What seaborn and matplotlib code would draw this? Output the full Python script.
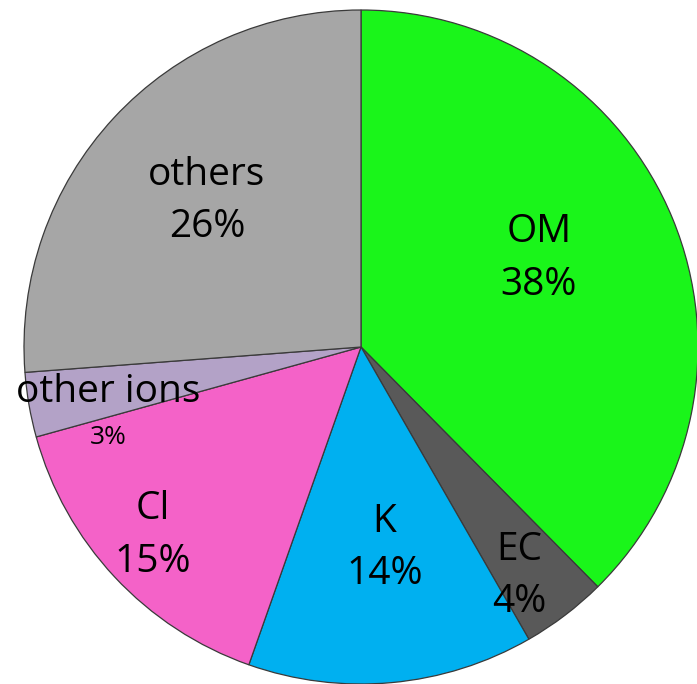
import matplotlib
matplotlib.use("Agg")
import matplotlib.pyplot as plt
import seaborn as sns

sns.set_theme(style="white")
plt.rcParams['font.family'] = ['Open Sans', 'DejaVu Sans']

categories = ["OM", "EC", "K", "Cl", "other ions", "others"]
values = [37.6, 4.1, 13.7, 15.3, 3.1, 26.2]
pct_labels = ["38%", "4%", "14%", "15%", "3%", "26%"]
colors = ["#1AF51A", "#595959", "#00B0F0", "#F462C8", "#B3A2C7", "#A6A6A6"]

fig = plt.figure(figsize=(6.97, 6.84), dpi=100)
ax = fig.add_axes([24/697, 0/684, 674/697, 674/684])
wedges, _ = ax.pie(values, colors=colors, startangle=90, counterclock=False,
                   radius=1.0,
                   wedgeprops=dict(edgecolor="#3a3a3a", linewidth=0.9))
ax.set_xlim(-1, 1)
ax.set_ylim(-1, 1)
ax.set_aspect("equal")
ax.axis("off")

# label positions (data units, pie radius = 1)
label_pos = {
    "OM": (0.528, 0.262),
    "EC": (0.47, -0.68),
    "K": (0.07, -0.597),
    "Cl": (-0.617, -0.56),
    "others": (-0.457, 0.433),
}
fs = 28
for cat, lab in zip(categories, pct_labels):
    if cat in label_pos:
        x, y = label_pos[cat]
        ax.text(x, y, f"{cat}\n{lab}", ha="center", va="center", fontsize=fs,
                linespacing=1.5, color="black")

ax.text(-0.75, -0.135, "other ions", ha="center", va="center", fontsize=fs, color="black")
ax.text(-0.75, -0.27, pct_labels[4], ha="center", va="center", fontsize=19, color="black")

fig.savefig("out.png", dpi=100)
